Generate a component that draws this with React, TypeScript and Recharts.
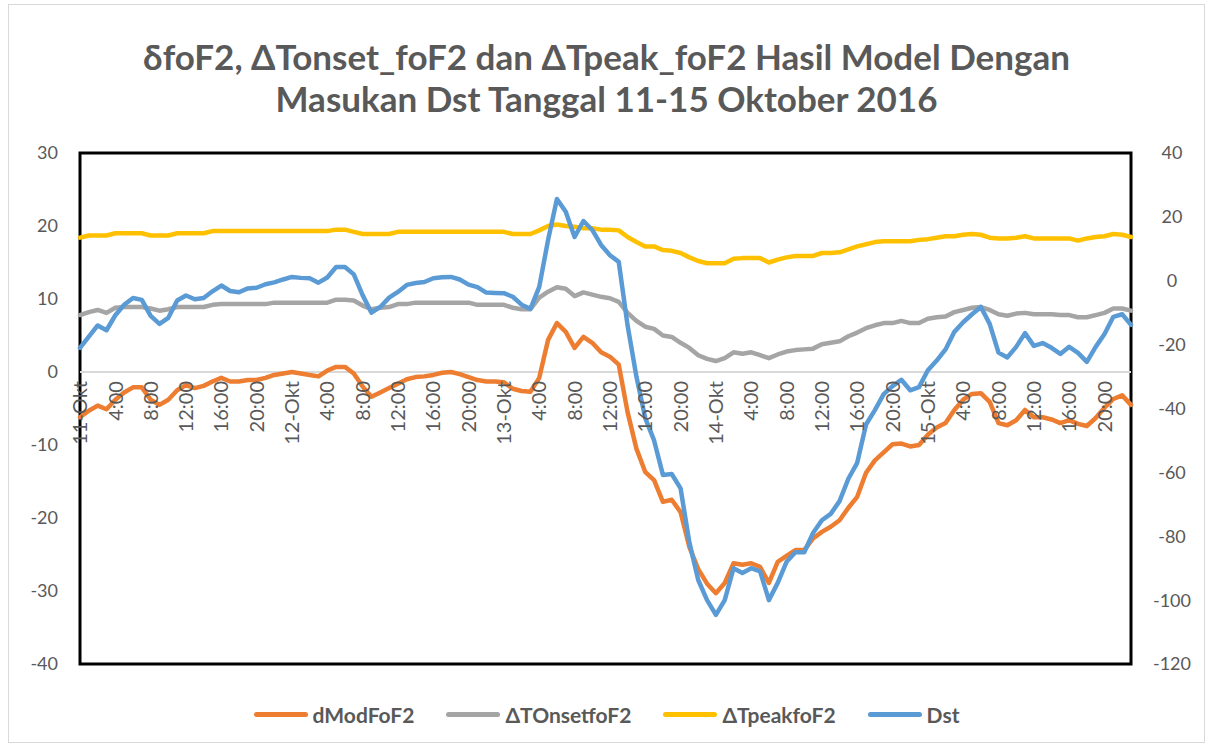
import { LineChart, Line, XAxis, YAxis, ReferenceLine, ReferenceArea } from "recharts";

const DAYS = ["11-Okt", "12-Okt", "13-Okt", "14-Okt", "15-Okt"];
const HOURS_PER_DAY = 24;
const TIME_LABELS = DAYS.flatMap((d) =>
  Array.from({ length: HOURS_PER_DAY }, (_, h) => (h === 0 ? d : `${h}:00`))
);

const dModFoF2 = [
  -6.2, -5.3, -4.6, -5.1, -3.8, -2.8, -2.1, -2.1, -3.8, -4.5, -3.8, -2.5, -1.8, -2.2, -1.9, -1.3, -0.8, -1.3, -1.3, -1.1, -1.1, -0.8, -0.4, -0.2,
  0.0, -0.2, -0.4, -0.6, 0.2, 0.7, 0.7, -0.2, -2.0, -3.4, -2.8, -2.2, -1.6, -1.0, -0.7, -0.6, -0.4, -0.1, 0.0, -0.3, -0.7, -1.1, -1.3, -1.3,
  -1.4, -2.3, -2.6, -2.7, -0.8, 4.4, 6.7, 5.5, 3.3, 4.8, 4.0, 2.7, 2.1, 1.0, -5.5, -10.5, -13.7, -14.8, -17.8, -17.5, -19.2, -24.0, -27.0, -29.0,
  -30.3, -28.9, -26.2, -26.4, -26.2, -26.7, -28.9, -26.0, -25.2, -24.4, -24.4, -22.8, -21.9, -21.2, -20.3, -18.6, -17.1, -13.8, -12.1, -11.0, -9.9, -9.8, -10.2, -10.0,
  -8.6, -7.6, -7.0, -5.2, -3.8, -3.0, -2.9, -4.1, -7.0, -7.3, -6.6, -5.2, -6.2, -6.2, -6.5, -7.0, -6.6, -7.1, -7.4, -6.3, -4.9, -3.7, -3.2, -4.5,
];

const dTOnsetFoF2 = [
  7.8, 8.2, 8.5, 8.1, 8.8, 8.9, 8.9, 8.9, 8.7, 8.4, 8.6, 8.9, 8.9, 8.9, 8.9, 9.2, 9.3, 9.3, 9.3, 9.3, 9.3, 9.3, 9.5, 9.5,
  9.5, 9.5, 9.5, 9.5, 9.5, 9.9, 9.9, 9.8, 9.1, 8.6, 8.8, 8.9, 9.3, 9.3, 9.5, 9.5, 9.5, 9.5, 9.5, 9.5, 9.5, 9.2, 9.2, 9.2,
  9.2, 8.8, 8.6, 8.6, 10.2, 11.0, 11.6, 11.4, 10.4, 10.9, 10.6, 10.3, 10.1, 9.6, 8.1, 7.0, 6.2, 5.9, 5.0, 4.8, 4.0, 3.3, 2.3, 1.8,
  1.5, 1.9, 2.7, 2.5, 2.7, 2.3, 1.9, 2.4, 2.8, 3.0, 3.1, 3.2, 3.8, 4.0, 4.2, 4.9, 5.4, 6.0, 6.4, 6.7, 6.7, 7.0, 6.7, 6.7,
  7.3, 7.5, 7.6, 8.2, 8.5, 8.8, 8.9, 8.5, 7.9, 7.7, 8.0, 8.1, 7.9, 7.9, 7.9, 7.8, 7.8, 7.5, 7.5, 7.8, 8.1, 8.7, 8.7, 8.4,
];

const dTPeakFoF2 = [
  18.4, 18.7, 18.7, 18.7, 19.0, 19.0, 19.0, 19.0, 18.7, 18.7, 18.7, 19.0, 19.0, 19.0, 19.0, 19.3, 19.3, 19.3, 19.3, 19.3, 19.3, 19.3, 19.3, 19.3,
  19.3, 19.3, 19.3, 19.3, 19.3, 19.5, 19.5, 19.2, 18.9, 18.9, 18.9, 18.9, 19.2, 19.2, 19.2, 19.2, 19.2, 19.2, 19.2, 19.2, 19.2, 19.2, 19.2, 19.2,
  19.2, 18.9, 18.9, 18.9, 19.4, 20.0, 20.2, 20.0, 19.9, 19.7, 19.7, 19.5, 19.5, 19.4, 18.5, 17.8, 17.2, 17.2, 16.7, 16.6, 16.3, 15.7, 15.2, 14.9,
  14.9, 14.9, 15.5, 15.6, 15.6, 15.6, 15.0, 15.4, 15.7, 15.9, 15.9, 15.9, 16.3, 16.3, 16.4, 16.8, 17.2, 17.5, 17.8, 17.9, 17.9, 17.9, 17.9, 18.1,
  18.2, 18.4, 18.6, 18.6, 18.8, 18.9, 18.8, 18.4, 18.3, 18.3, 18.4, 18.6, 18.3, 18.3, 18.3, 18.3, 18.3, 18.0, 18.3, 18.5, 18.6, 18.9, 18.8, 18.5,
];

const dst = [
  -21, -17.5, -14, -15.5, -10.8, -7.5, -5.4, -6.0, -11, -13.5, -11.6, -6.2, -4.6, -5.8, -5.4, -3.3, -1.5, -3.2, -3.6, -2.4, -2.2, -1.1, -0.5, 0.4,
  1.2, 0.9, 0.8, -0.6, 1.0, 4.3, 4.3, 2.0, -4.5, -10, -8.2, -5.3, -3.5, -1.3, -0.7, -0.4, 0.8, 1.1, 1.2, 0.4, -1.2, -2.0, -3.7, -3.8,
  -3.9, -5, -7.5, -8.8, -1.9, 12.8, 25.6, 21.6, 13.7, 18.7, 15.9, 11.2, 8.0, 5.9, -14, -30, -43, -50, -60.8, -60.5, -65, -82, -93.7, -100,
  -104.6, -100, -90, -91.5, -90, -91, -100, -94.6, -88, -85, -85, -79, -75, -73, -69, -62, -57, -45, -40.5, -35.5, -33, -31, -34.3, -33.3,
  -28, -25, -21.5, -16, -13, -10.5, -8.2, -13.5, -22.5, -24, -20.7, -16.4, -20.4, -19.5, -21, -22.9, -20.7, -22.6, -25.4, -20.7, -16.7, -11.3, -10.5, -13.8,
];

const LEFT_TICKS = [-40, -30, -20, -10, 0, 10, 20, 30];
const RIGHT_TICKS = [-120, -100, -80, -60, -40, -20, 0, 20, 40];
const X_TICKS = TIME_LABELS.map((_, i) => i).filter((i) => i % 4 === 0);

const SERIES = [
  { key: "dMod", name: "dModFoF2", color: "#ED7D31", axis: "left" },
  { key: "onset", name: "ΔTOnsetfoF2", color: "#A5A5A5", axis: "left" },
  { key: "peak", name: "ΔTpeakfoF2", color: "#FFC000", axis: "left" },
  { key: "dst", name: "Dst", color: "#5B9BD5", axis: "right" },
];

const data = TIME_LABELS.map((label, i) => ({
  t: i,
  label,
  dMod: dModFoF2[i],
  onset: dTOnsetFoF2[i],
  peak: dTPeakFoF2[i],
  dst: dst[i],
}));

const W = 1213;
const H = 747;
const X_AXIS_H = 1;
const MARGIN = { top: 153, right: 12, bottom: 82, left: 20 };
const PLOT_H = H - MARGIN.top - MARGIN.bottom - X_AXIS_H;
const LEFT_MIN = LEFT_TICKS[0];
const LEFT_MAX = LEFT_TICKS[LEFT_TICKS.length - 1];
const ZERO_SHIFT = (PLOT_H * (0 - LEFT_MIN)) / (LEFT_MAX - LEFT_MIN);

const FONT = "Lato, 'Open Sans', sans-serif";
const TEXT = "#595959";

// category labels sit just under the zero line, like excel does
const renderTimeTick = (props: any) => {
  const { x, y, payload } = props;
  const ty = y - ZERO_SHIFT + 9;
  return (
    <text
      key={`t-${payload.value}`}
      x={x}
      y={ty}
      transform={`rotate(-90, ${x}, ${ty})`}
      textAnchor="end"
      dy="0.36em"
      fontSize={20}
      fontFamily={FONT}
      fill={TEXT}
    >
      {TIME_LABELS[payload.value]}
    </text>
  );
};

const renderRightTick = (props: any) => {
  const { x, y, payload } = props;
  return (
    <text key={`r-${payload.value}`} x={x} y={y} dy="0.36em" textAnchor="middle" fontSize={18} fontFamily={FONT} fill={TEXT}>
      {payload.value}
    </text>
  );
};

const Legend = () => (
  <div
    style={{
      position: "absolute",
      top: 702,
      left: 0,
      width: W,
      display: "flex",
      justifyContent: "center",
      gap: 32,
      fontFamily: FONT,
      fontSize: 21,
      fontWeight: 700,
      color: TEXT,
    }}
  >
    {SERIES.map((s) => (
      <div key={s.key} style={{ display: "flex", alignItems: "center", gap: 5 }}>
        <span style={{ display: "inline-block", width: 54, height: 5, borderRadius: 3, background: s.color }} />
        <span>{s.name}</span>
      </div>
    ))}
  </div>
);

export default function App() {
  return (
    <div style={{ position: "absolute", left: 0, top: 0, width: W, height: H, background: "#fff", fontFamily: FONT }}>
      <div style={{ position: "absolute", left: 8, top: 4, width: W - 16, height: H - 8, border: "1px solid #D9D9D9", boxSizing: "border-box" }} />
      <div
        style={{
          position: "absolute",
          top: 35,
          left: 0,
          width: W,
          textAlign: "center",
          fontSize: 35,
          fontWeight: 700,
          lineHeight: "42px",
          color: TEXT,
        }}
      >
        <div>δfoF2, ΔTonset_foF2 dan ΔTpeak_foF2 Hasil Model Dengan</div>
        <div>Masukan Dst Tanggal 11-15 Oktober 2016</div>
      </div>
      <LineChart width={W} height={H} data={data} margin={MARGIN} style={{ position: "absolute", left: 0, top: 0 }}>
        <XAxis
          dataKey="t"
          type="number"
          domain={[0, TIME_LABELS.length - 1]}
          ticks={X_TICKS}
          interval={0}
          height={X_AXIS_H}
          axisLine={false}
          tickLine={false}
          tickSize={0}
          tickMargin={0}
          tick={renderTimeTick}
        />
        <YAxis
          yAxisId="left"
          domain={[LEFT_MIN, LEFT_MAX]}
          ticks={LEFT_TICKS}
          width={60}
          axisLine={false}
          tickLine={false}
          tickMargin={16}
          tick={{ fontSize: 18, fill: TEXT, fontFamily: FONT }}
        />
        <YAxis
          yAxisId="right"
          orientation="right"
          domain={[RIGHT_TICKS[0], RIGHT_TICKS[RIGHT_TICKS.length - 1]]}
          ticks={RIGHT_TICKS}
          width={70}
          axisLine={false}
          tickLine={false}
          tickMargin={35}
          tick={renderRightTick}
        />
        <ReferenceLine yAxisId="left" y={0} stroke="#D9D9D9" strokeWidth={2} />
        {SERIES.map((s) => (
          <Line
            key={s.key}
            yAxisId={s.axis}
            dataKey={s.key}
            name={s.name}
            type="linear"
            stroke={s.color}
            strokeWidth={4.5}
            strokeLinejoin="round"
            strokeLinecap="round"
            dot={false}
            activeDot={false}
            isAnimationActive={false}
          />
        ))}
        <ReferenceArea
          yAxisId="left"
          x1={0}
          x2={TIME_LABELS.length - 1}
          y1={LEFT_MIN}
          y2={LEFT_MAX}
          fill="none"
          fillOpacity={0}
          stroke="#000"
          strokeWidth={3}
          ifOverflow="visible"
        />
      </LineChart>
      <Legend />
    </div>
  );
}
